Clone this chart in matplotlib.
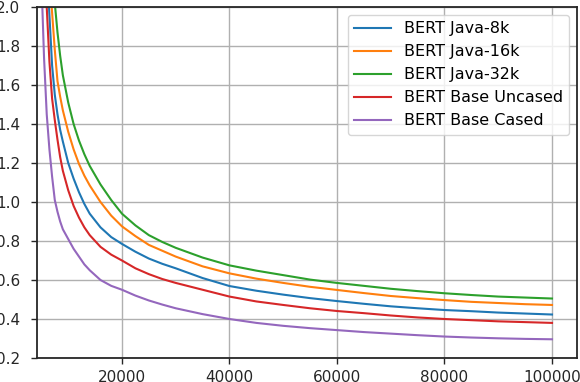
import matplotlib
matplotlib.use("Agg")
import matplotlib.pyplot as plt

steps = [5000, 5500, 6000, 6500, 7000, 7500, 8000, 8500, 9000, 10000, 11000, 12000,
         13000, 14000, 16000, 18000, 20000, 22500, 25000, 27500, 30000, 35000, 40000,
         45000, 50000, 55000, 60000, 65000, 70000, 75000, 80000, 85000, 90000, 95000, 100000]

java_8k = [2.80, 2.50, 2.22, 1.96, 1.70, 1.55, 1.45, 1.37, 1.31, 1.20, 1.12, 1.05,
           0.99, 0.94, 0.87, 0.82, 0.785, 0.745, 0.71, 0.683, 0.66, 0.61, 0.569,
           0.545, 0.525, 0.507, 0.492, 0.478, 0.465, 0.455, 0.446, 0.440, 0.433, 0.428, 0.423]

java_16k = [2.90, 2.60, 2.35, 2.15, 1.97, 1.78, 1.62, 1.54, 1.47, 1.36, 1.27, 1.195,
            1.135, 1.085, 1.00, 0.93, 0.875, 0.825, 0.78, 0.75, 0.72, 0.67, 0.634,
            0.607, 0.585, 0.565, 0.549, 0.533, 0.518, 0.507, 0.497, 0.488, 0.482, 0.476, 0.472]

java_32k = [3.20, 2.90, 2.60, 2.35, 2.17, 2.02, 1.87, 1.75, 1.65, 1.51, 1.40, 1.315,
            1.245, 1.185, 1.09, 1.01, 0.94, 0.88, 0.83, 0.795, 0.765, 0.715, 0.675,
            0.648, 0.625, 0.602, 0.585, 0.570, 0.555, 0.543, 0.532, 0.523, 0.515, 0.510, 0.505]

base_uncased = [2.60, 2.28, 2.00, 1.72, 1.53, 1.42, 1.32, 1.23, 1.16, 1.06, 0.98, 0.92,
                0.87, 0.83, 0.77, 0.73, 0.70, 0.66, 0.63, 0.605, 0.585, 0.55, 0.515,
                0.49, 0.472, 0.455, 0.441, 0.430, 0.418, 0.408, 0.400, 0.394, 0.388, 0.384, 0.380]

base_cased = [2.15, 1.74, 1.45, 1.27, 1.13, 1.01, 0.95, 0.90, 0.86, 0.81, 0.76, 0.72,
              0.68, 0.65, 0.60, 0.57, 0.55, 0.52, 0.495, 0.474, 0.455, 0.425, 0.40,
              0.38, 0.365, 0.353, 0.343, 0.333, 0.325, 0.317, 0.310, 0.305, 0.301, 0.298, 0.296]

labels = ["BERT Java-8k", "BERT Java-16k", "BERT Java-32k", "BERT Base Uncased", "BERT Base Cased"]
series = [java_8k, java_16k, java_32k, base_uncased, base_cased]
colors = ["#1f77b4", "#ff7f0e", "#2ca02c", "#d62728", "#9467bd"]

yticks = [0.2, 0.4, 0.6, 0.8, 1.0, 1.2, 1.4, 1.6, 1.8, 2.0]
xticks = [20000, 40000, 60000, 80000, 100000]

plt.rcParams["font.family"] = "DejaVu Sans"
plt.rcParams["font.size"] = 11

fig = plt.figure(figsize=(5.8, 3.82), dpi=100)
ax = fig.add_axes([37 / 580, 1 - 358 / 382, (577 - 37) / 580, (358 - 7) / 382])

for vals, lab, c in zip(series, labels, colors):
    ax.plot(steps, vals, color=c, lw=1.5, label=lab)

ax.set_xlim(4190, 104650)
ax.set_ylim(0.2, 2.0)
ax.set_yticks(yticks)
ax.set_yticklabels([f"{v:.1f}" for v in yticks])
ax.set_xticks(xticks)
ax.set_xticklabels([str(v) for v in xticks])
ax.grid(True, color="#b0b0b0", lw=1.0)
ax.set_axisbelow(True)
for s in ax.spines.values():
    s.set_color("#262626")
    s.set_linewidth(1.3)
ax.tick_params(axis="both", length=4, width=1.0, color="#262626", labelcolor="#262626",
               labelsize=11)
ax.tick_params(axis="y", pad=8)
ax.tick_params(axis="x", pad=5)

leg = ax.legend(loc="upper right", fontsize=11.5, handlelength=2.3, framealpha=0.8,
                edgecolor="#cccccc", borderaxespad=0.5)

fig.savefig("out.png", dpi=100)
